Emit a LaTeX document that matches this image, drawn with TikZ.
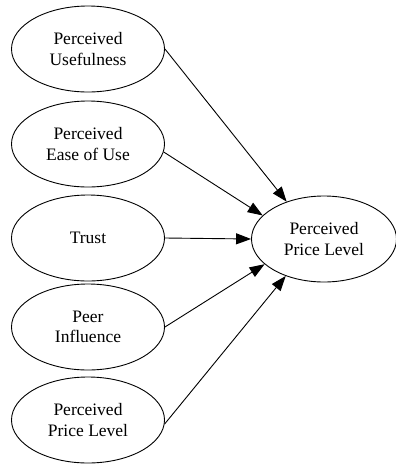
\documentclass[tikz,border=0pt]{standalone}
\usepackage{fontspec}
\setmainfont{Liberation Serif}
\usetikzlibrary{shapes.geometric,arrows.meta}
\begin{document}
\begin{tikzpicture}[x=1pt,y=-1pt,
  ell/.style={draw,ellipse,line width=0.9pt,inner sep=0pt,align=center,
    font=\fontsize{17.5}{20.5}\selectfont,minimum width=153pt,minimum height=86pt},
  conn/.style={-{Triangle[length=15pt,width=11pt]},line width=0.9pt}]
\useasboundingbox (0,0) rectangle (396,464);
\node[ell] (pu) at (88,49) {Perceived\\Usefulness};
\node[ell] (peou) at (88,144) {Perceived\\Ease of Use};
\node[ell] (tr) at (88,238) {Trust};
\node[ell] (pi) at (88,327) {Peer\\Influence};
\node[ell] (ppl) at (88,420) {Perceived\\Price Level};
\node[ell,minimum width=145pt,minimum height=86pt] (out) at (324,239) {Perceived\\Price Level};
\draw[conn] (pu.east) -- (out.135);
\draw[conn] (peou.-6) -- (out.159);
\draw[conn] (tr.east) -- (out.180);
\draw[conn] (pi.east) -- (out.203);
\draw[conn] (ppl.-3) -- (out.224);
\end{tikzpicture}
\end{document}
